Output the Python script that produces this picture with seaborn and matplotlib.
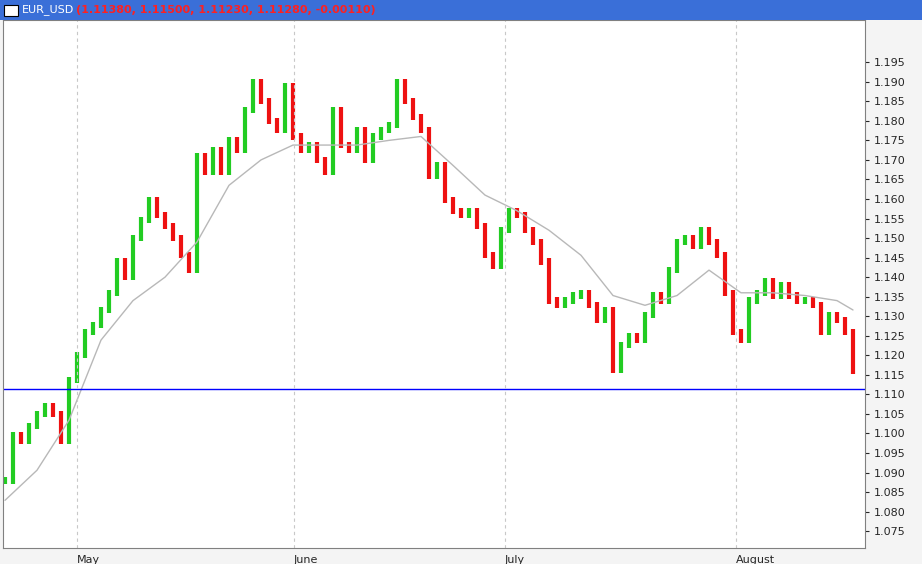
import matplotlib
matplotlib.use("Agg")
import matplotlib.pyplot as plt
import seaborn as sns
import numpy as np
import pandas as pd

sns.set_style("white")
plt.rcParams['font.family'] = ['DejaVu Sans']

closes = [1.088,1.0996,1.098,1.102,1.105,1.107,1.105,1.098,1.1136,1.120,1.126,1.1277,1.1316,1.136,1.144,1.140,
 1.150,1.1546,1.1597,1.156,1.153,1.150,1.1456,1.1418,1.171,1.167,1.1725,1.167,1.175,1.1725,1.1827,1.190,1.185,
 1.180,1.1776,1.189,1.176,1.1725,1.1738,1.170,1.167,1.1827,1.1738,1.1725,1.1776,1.170,1.176,1.1776,1.179,1.190,
 1.185,1.181,1.1776,1.166,1.1686,1.1597,1.157,1.156,1.157,1.153,1.1456,1.143,1.152,1.157,1.156,1.152,1.149,1.144,
 1.134,1.1328,1.134,1.1353,1.136,1.1328,1.129,1.1316,1.1162,1.1226,1.125,1.124,1.1303,1.1353,1.134,1.1418,1.149,
 1.150,1.148,1.152,1.149,1.1456,1.136,1.126,1.124,1.134,1.136,1.139,1.1353,1.138,1.1353,1.134,1.134,1.1328,1.126,
 1.1303,1.129,1.126,1.116]
ma_values = [1.0829,1.0906,1.1034,1.1239,1.134,1.140,1.149,1.1635,1.170,1.1738,1.1738,1.1738,1.175,1.176,1.1686,
 1.161,1.157,1.152,1.1456,1.1353,1.1328,1.1353,1.1418,1.136,1.136,1.1353,1.134,1.1316]
ma_index = [0,4,8,12,16,20,24,28,32,36,40,44,48,52,56,60,64,68,72,76,80,84,88,92,96,100,104,106]
months = ["May", "June", "July", "August"]
month_pos = [9, 36.1, 62.5, 91.4]
support_level = 1.1113
yticks = [round(1.075 + 0.005*i, 3) for i in range(25)]
title_name = "EUR_USD"
title_vals = "(1.11380, 1.11500, 1.11230, 1.11280, -0.00110)"

fig = plt.figure(figsize=(9.22, 5.64), dpi=100)
fig.patch.set_facecolor("#f4f4f4")
ax = fig.add_axes([3/922, 16/564, 862/922, 528/564])
ax.set_facecolor("white")

df = pd.DataFrame({"i": np.arange(len(closes)), "c": closes})
prev = np.r_[closes[0], closes[:-1]]
for i, (p, c) in enumerate(zip(prev, closes)):
    col = "#22cc22" if c >= p else "#ee1111"
    lo, hi = min(p, c) - 0.0008, max(p, c) + 0.0008
    ax.vlines(i, lo, hi, color=col, lw=3.0)
sns.lineplot(x=ma_index, y=ma_values, ax=ax, color="#b8b8b8", lw=1.0)
ax.axhline(support_level, color="#0000ff", lw=1)
for m in month_pos:
    ax.axvline(m, color="#c8c8c8", ls=(0, (3, 3)), lw=0.8)

ax.set_xlim(-0.25, 107.5)
ax.set_ylim(1.0707, 1.2058)
ax.set_xlabel(""); ax.set_ylabel("")
ax.yaxis.tick_right()
ax.set_yticks(yticks)
ax.set_yticklabels([f"{t:.3f}" for t in yticks], fontsize=8)
ax.tick_params(axis="y", length=3, pad=3)
ax.set_xticks(month_pos)
ax.set_xticklabels(months, fontsize=8, ha="left")
ax.tick_params(axis="x", length=4, pad=1)
for s in ax.spines.values():
    s.set_color("#808080"); s.set_linewidth(0.8)

fig.patches.append(plt.Rectangle((0, 544/564), 1, 20/564, transform=fig.transFigure,
                                 facecolor="#3a6fd8", edgecolor="none"))
fig.patches.append(plt.Rectangle((4/922, 548/564), 14/922, 11/564, transform=fig.transFigure,
                                 facecolor="white", edgecolor="black", lw=0.8))
fig.text(22/922, 554/564, title_name, color="white", fontsize=8, va="center")
fig.text(76/922, 554/564, title_vals, color="#ff2020", fontsize=8, va="center", weight="bold")
fig.savefig("out.png", dpi=100, facecolor=fig.get_facecolor())
